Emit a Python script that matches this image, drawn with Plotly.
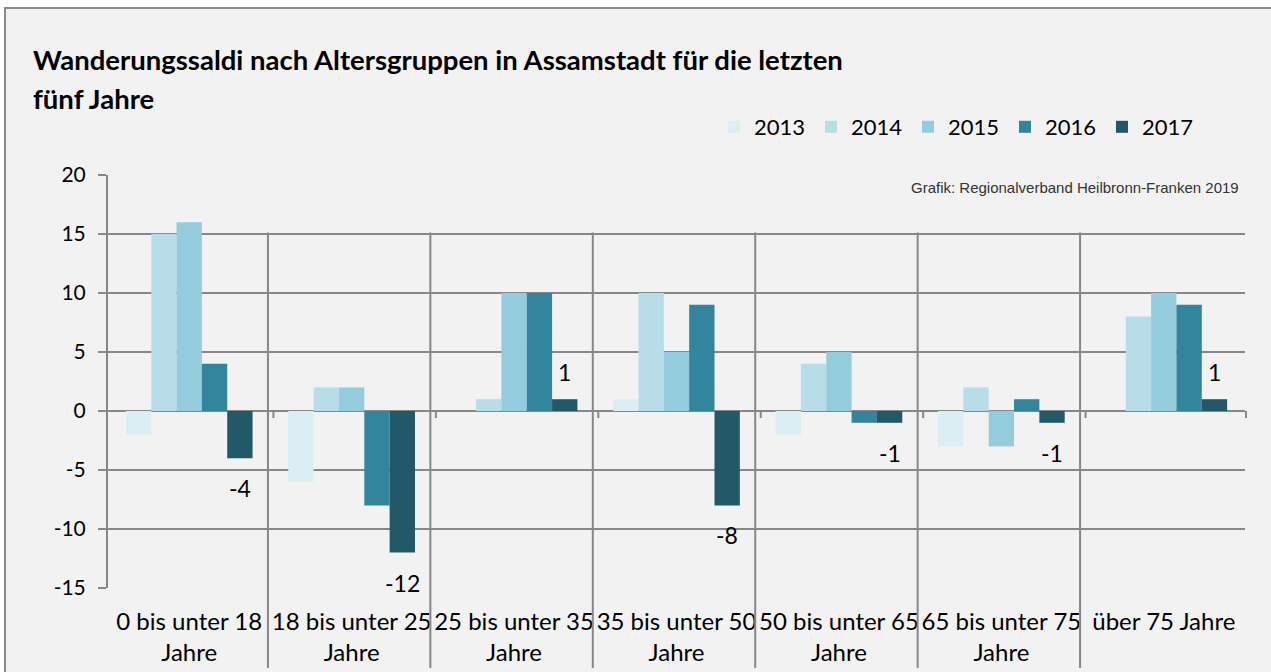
import plotly.graph_objects as go

# ---- data ----
categories = ["0 bis unter 18<br>Jahre", "18 bis unter 25<br>Jahre", "25 bis unter 35<br>Jahre",
              "35 bis unter 50<br>Jahre", "50 bis unter 65<br>Jahre", "65 bis unter 75<br>Jahre",
              "über 75 Jahre"]
years = ["2013", "2014", "2015", "2016", "2017"]
v2013 = [-2, -6, 0, 1, -2, -3, 0]
v2014 = [15, 2, 1, 10, 4, 2, 8]
v2015 = [16, 2, 10, 5, 5, -3, 10]
v2016 = [4, -8, 10, 9, -1, 1, 9]
v2017 = [-4, -12, 1, -8, -1, -1, 1]
yticks = [-15, -10, -5, 0, 5, 10, 15, 20]
ytick_text = ["-15", "-10", "-5", "0", "5", "10", "15", "20"]
title_line1 = "Wanderungssaldi nach Altersgruppen in Assamstadt für die letzten"
title_line2 = "fünf Jahre"
source_text = "Grafik: Regionalverband Heilbronn-Franken 2019"

series = [v2013, v2014, v2015, v2016, v2017]
colors = ["#dbeef4", "#b7dde8", "#93cddd", "#31859c", "#215968"]

# ---- layout constants ----
W, H = 1271, 672
L, R, T, B = 108, 26, 175, 84
PW, PH = W - L - R, H - T - B
YMIN, YMAX = -15, 20
BARGAP = 0.22
FONT = "Lato"
GRID = "#878787"

def px_x(px):
    return (px - L) / PW

def px_y(py):
    return (H - B - py) / PH

fig = go.Figure()
for name, vals, col in zip(years, series, colors):
    fig.add_trace(go.Bar(name=name, x=categories, y=vals,
                         marker=dict(color=col, line=dict(width=0))))

# data labels for 2017 series
n = len(categories)
cat_w = PW / n
bar_w = cat_w * (1 - BARGAP) / len(years)
shift = bar_w * 2
for c, v in zip(categories, v2017):
    fig.add_annotation(x=c, y=v, xref="x", yref="y", text=str(v), showarrow=False,
                       xshift=shift, yshift=(27 if v > 0 else -30), yanchor="middle",
                       font=dict(family=FONT, size=23, color="black"))

shapes = []
# outer frame / background
shapes.append(dict(type="rect", xref="paper", yref="paper", layer="below",
                   x0=px_x(5), x1=px_x(1290), y0=px_y(700), y1=px_y(8),
                   fillcolor="#f2f2f2", line=dict(color="#8a8a8a", width=2)))
# category separators
y15 = (15 - YMIN) / (YMAX - YMIN)
y0v = (0 - YMIN) / (YMAX - YMIN)
for k in range(1, n):
    xp = k / n - 2.5 / PW
    shapes.append(dict(type="line", xref="paper", yref="paper", layer="above",
                       x0=xp, x1=xp, y0=y15 + 1.5 / PH, y1=px_y(668),
                       line=dict(color=GRID, width=2)))
    xt = k / n + 3 / PW
    shapes.append(dict(type="line", xref="paper", yref="paper", layer="above",
                       x0=xt, x1=xt, y0=y0v, y1=y0v - 7 / PH,
                       line=dict(color=GRID, width=2)))
shapes.append(dict(type="line", xref="paper", yref="paper", layer="above",
                   x0=1 + 1 / PW, x1=1 + 1 / PW, y0=y0v, y1=y0v - 7 / PH,
                   line=dict(color=GRID, width=2)))

fig.update_layout(
    width=W, height=H,
    margin=dict(l=L, r=R, t=T, b=B, pad=0, autoexpand=False),
    paper_bgcolor="white", plot_bgcolor="white",
    barmode="group", bargap=BARGAP, bargroupgap=0,
    font=dict(family=FONT, color="black"),
    shapes=shapes,
    showlegend=True,
    legend=dict(orientation="h", x=px_x(714), xanchor="left", y=px_y(127), yanchor="middle",
                font=dict(family=FONT, size=22, color="black"), bgcolor="rgba(0,0,0,0)",
                entrywidth=52, entrywidthmode="pixels", traceorder="normal",
                itemclick=False, itemdoubleclick=False),
    xaxis=dict(type="category", range=[-0.5, n - 0.5], showgrid=False, showline=False,
               ticks="", tickangle=0, ticklabelstandoff=17, automargin=False,
               tickfont=dict(family=FONT, size=24, color="black"), fixedrange=True),
    yaxis=dict(range=[YMIN, YMAX], tickvals=yticks, ticktext=ytick_text,
               showgrid=True, gridcolor=GRID, gridwidth=2, automargin=False,
               zeroline=True, zerolinecolor=GRID, zerolinewidth=2,
               showline=True, linecolor=GRID, linewidth=2,
               ticks="outside", ticklen=8, tickcolor=GRID, tickwidth=2,
               ticklabelstandoff=8,
               tickfont=dict(family=FONT, size=21, color="black"), fixedrange=True),
)

fig.add_annotation(xref="paper", yref="paper", x=px_x(31), y=px_y(60), xanchor="left",
                   yanchor="middle", showarrow=False, text="<b>" + title_line1 + "</b>",
                   font=dict(family=FONT, size=27.5, color="black"))
fig.add_annotation(xref="paper", yref="paper", x=px_x(31), y=px_y(98), xanchor="left",
                   yanchor="middle", showarrow=False, text="<b>" + title_line2 + "</b>",
                   font=dict(family=FONT, size=27.5, color="black"))
fig.add_annotation(xref="paper", yref="paper", x=px_x(1241), y=px_y(187), xanchor="right",
                   yanchor="middle", showarrow=False, text=source_text,
                   font=dict(family="Liberation Sans", size=15, color="#333333"))

fig.write_html("out.html", config={"displayModeBar": False},
               post_script="document.body.style.margin='0';document.body.style.overflow='hidden';")
